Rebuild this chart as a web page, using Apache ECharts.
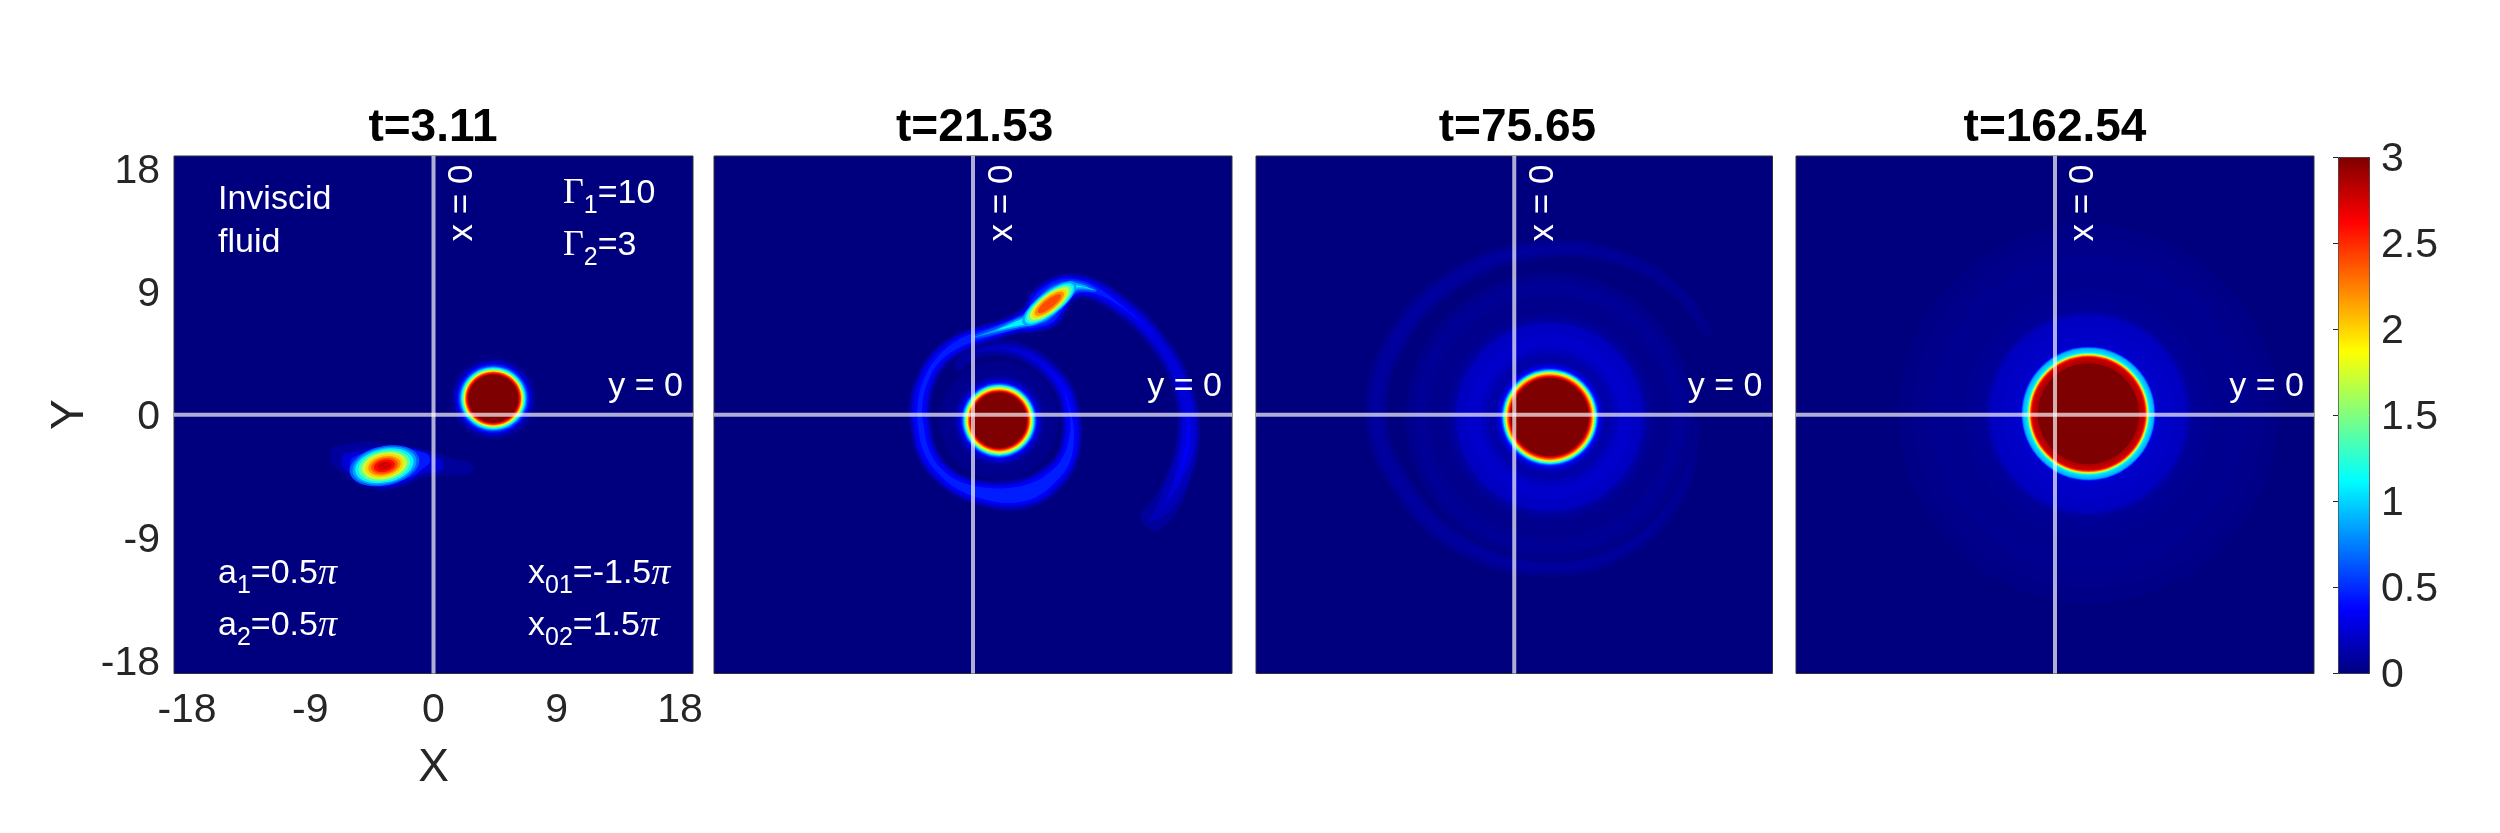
<!DOCTYPE html>
<html>
<head>
<meta charset="utf-8">
<style>
  html, body { margin: 0; background: #fff; }
  #chart { width: 2500px; height: 833px; }
</style>
<script src="https://cdn.jsdelivr.net/npm/echarts@6/dist/echarts.min.js"></script>
</head>
<body>
<div id="chart"></div>
<script>
// titles and tick labels
const panelTitles = ['t=3.11', 't=21.53', 't=75.65', 't=162.54'];
const tickValues = [-18, -9, 0, 9, 18];
const tickLabels = ['-18', '-9', '0', '9', '18'];

// jet colormap, 0..3
const jetColors = ['#00007f', '#0000ff', '#007fff', '#00ffff', '#7fff7f', '#ffff00', '#ff7f00', '#ff0000', '#7f0000'];

// the x = 0 and y = 0 guide lines
const lineX0 = [[0, -18], [0, 18]];
const lineY0 = [[-18, 0], [18, 0]];

// filled contours, painted outermost first
// vortex cores: [radius, value]
const t3Core = [[3.05, 0.03], [2.85, 0.1], [2.7, 0.2], [2.58, 0.3], [2.48, 0.45], [2.38, 0.6], [2.3, 0.85], [2.22, 1.1], [2.15, 1.35], [2.09, 1.6], [2.03, 1.85], [1.98, 2.1], [1.93, 2.35], [1.88, 2.55], [1.82, 2.75], [1.74, 3]];
const t21Core = [[4.1, 0.04], [3.35, 0.05], [3.15, 0.08], [3.0, 0.15], [2.85, 0.25], [2.72, 0.35], [2.62, 0.5], [2.55, 0.7], [2.48, 0.95], [2.42, 1.2], [2.36, 1.45], [2.3, 1.7], [2.24, 1.9], [2.18, 2.15], [2.12, 2.4], [2.06, 2.6], [2.0, 2.8], [1.93, 3]];
const t75Core = [[10.1, 0.02], [9.9, 0.035], [9.7, 0.05], [9.4, 0.065], [9.1, 0.07], [8.8, 0.055], [8.4, 0.04], [7.7, 0.04], [7.3, 0.06], [6.9, 0.1], [6.6, 0.16], [6.4, 0.2], [5.8, 0.22], [5.2, 0.22], [4.8, 0.18], [4.4, 0.13], [4.0, 0.13], [3.75, 0.2], [3.6, 0.3], [3.47, 0.4], [3.4, 0.5], [3.34, 0.7], [3.28, 0.9], [3.24, 1.1], [3.19, 1.3], [3.14, 1.55], [3.1, 1.75], [3.06, 1.95], [3.0, 2.15], [2.95, 2.35], [2.88, 2.55], [2.83, 2.7], [2.76, 2.85], [2.71, 3]];
const t162Core = [[13.2, 0.02], [12.2, 0.035], [11, 0.05], [10, 0.045], [8.6, 0.06], [7.8, 0.07], [7.2, 0.1], [7.0, 0.14], [6.9, 0.17], [6.7, 0.2], [6, 0.21], [5.2, 0.22], [4.8, 0.24], [4.72, 0.3], [4.66, 0.45], [4.62, 0.65], [4.58, 0.85], [4.5, 0.95], [4.38, 1.0], [4.28, 1.1], [4.22, 1.3], [4.18, 1.55], [4.14, 1.8], [4.1, 2.0], [4.06, 2.25], [4.02, 2.45], [3.97, 2.65], [3.9, 2.8], [3.7, 2.85], [3.52, 3]];

// tilted blobs: [x half axis, y half axis, value]
const t3Blob = [[2.45, 1.36, 0.65], [2.25, 1.26, 0.85], [2.05, 1.16, 1.1], [1.82, 1.04, 1.4], [1.58, 0.92, 1.7], [1.34, 0.78, 2.0], [1.14, 0.66, 2.2], [0.94, 0.54, 2.4], [0.74, 0.42, 2.6], [0.5, 0.27, 2.75]];
const t21Blob = [[2.3, 0.8, 0.85], [2.1, 0.72, 1.1], [1.9, 0.66, 1.4], [1.68, 0.58, 1.7], [1.45, 0.5, 2.0], [1.25, 0.42, 2.2], [1.0, 0.3, 2.4]];

// the faint skirt and tail around the t=3.11 blob: [x, y] outlines
const t3SkirtLow = [[-7.2, -2.7], [-5.81, -2.0], [-3.26, -2.0], [-0.95, -2.35], [1.3, -3.0], [2.7, -3.5], [2.6, -4.0], [1.14, -4.2], [-0.72, -4.4], [-2.57, -5.13], [-4.42, -5.13], [-6.04, -4.32]];
const t3SkirtMid = [[-6.39, -3.05], [-5.12, -2.51], [-2.8, -2.23], [-0.95, -2.47], [0.1, -2.93], [0.7, -3.4], [0.4, -3.9], [-0.72, -4.1], [-2.1, -4.78], [-3.96, -5.01], [-5.35, -4.43]];
const t3SkirtHigh = [[-5.81, -3.39], [-4.88, -2.7], [-2.8, -2.35], [-1.06, -2.54], [-0.25, -3.04], [-0.72, -3.74], [-2.1, -4.55], [-3.84, -4.9], [-5.12, -4.43]];

// spiral filaments: [x, y, half width at each level]
const t21ArmLevels = [0.08, 0.16, 0.26, 0.36, 0.46];
const t21Arm = [
  [12.14, -7.57, 0.45, 0, 0, 0, 0], [13.18, -6.53, 0.58, 0.3, 0, 0, 0], [14.11, -4.8, 0.56, 0.44, 0.14, 0, 0],
  [14.8, -2.71, 0.52, 0.42, 0.3, 0.08, 0], [14.99, -0.86, 0.5, 0.4, 0.28, 0.06, 0], [14.8, 1.0, 0.46, 0.36, 0.24, 0, 0],
  [14.11, 3.08, 0.44, 0.32, 0.2, 0, 0], [12.95, 4.93, 0.42, 0.32, 0.2, 0, 0], [11.56, 6.56, 0.44, 0.34, 0.24, 0.08, 0],
  [9.94, 7.83, 0.46, 0.37, 0.28, 0.16, 0.04], [8.55, 8.64, 0.48, 0.4, 0.32, 0.24, 0.14], [7.39, 8.92, 0.56, 0.48, 0.4, 0.34, 0.28],
  [6.46, 8.76, 0.7, 0.62, 0.55, 0.5, 0.45], [5.65, 8.18, 0.85, 0.78, 0.72, 0.66, 0.6], [4.84, 7.25, 0.92, 0.85, 0.78, 0.72, 0.66],
  [4.03, 6.67, 0.66, 0.6, 0.54, 0.48, 0.42], [2.99, 6.32, 0.46, 0.41, 0.35, 0.3, 0.25], [1.6, 5.86, 0.42, 0.36, 0.3, 0.25, 0.2],
  [0.09, 5.4, 0.44, 0.38, 0.32, 0.26, 0.18], [-1.18, 4.82, 0.44, 0.38, 0.32, 0.24, 0.15], [-2.46, 3.78, 0.44, 0.38, 0.31, 0.22, 0.1],
  [-3.27, 2.39, 0.46, 0.39, 0.32, 0.22, 0.1], [-3.68, 0.76, 0.48, 0.41, 0.34, 0.24, 0.1], [-3.61, -0.86, 0.48, 0.41, 0.34, 0.25, 0.12],
  [-3.15, -2.71, 0.48, 0.41, 0.34, 0.25, 0.12], [-2.11, -4.1, 0.46, 0.4, 0.33, 0.25, 0.12], [-0.72, -5.03, 0.5, 0.44, 0.37, 0.29, 0.18],
  [0.9, -5.49, 0.58, 0.52, 0.44, 0.36, 0.26], [2.52, -5.61, 0.68, 0.6, 0.5, 0.42, 0.32], [4.15, -5.26, 0.7, 0.62, 0.52, 0.44, 0.32],
  [5.54, -4.33, 0.62, 0.54, 0.45, 0.36, 0.24], [6.46, -3.17, 0.52, 0.46, 0.38, 0.29, 0.18], [6.86, -1.55, 0.46, 0.4, 0.32, 0.24, 0.1],
  [6.81, -0.16, 0.44, 0.37, 0.29, 0.2, 0.04], [6.35, 1.69, 0.42, 0.34, 0.24, 0.12, 0], [5.3, 3.08, 0.4, 0.3, 0.18, 0.04, 0],
  [3.91, 4.12, 0.38, 0.26, 0.12, 0, 0], [2.52, 4.59, 0.36, 0.2, 0.04, 0, 0], [1.14, 4.59, 0.32, 0.12, 0, 0, 0],
  [-0.02, 4.24, 0.28, 0.04, 0, 0, 0], [-1.18, 3.31, 0.18, 0, 0, 0, 0]
];
const t21BrightLevels = [0.6, 0.85, 1.1];
const t21Bright = [
  [0.09, 5.4, 0.08, 0, 0], [1.6, 5.86, 0.2, 0.08, 0], [2.99, 6.32, 0.3, 0.22, 0.12], [4.03, 6.67, 0.42, 0.34, 0.26],
  [4.84, 7.25, 0.66, 0.56, 0.46], [5.65, 8.18, 0.62, 0.52, 0.42], [6.46, 8.76, 0.44, 0.32, 0.2], [7.39, 8.92, 0.28, 0.16, 0.04], [8.55, 8.64, 0.08, 0, 0]
];
const t75RingLevels = [0.03, 0.05, 0.07, 0.09];
const t75Ring = [
  [12.63, -0.62, 0.35, 0.1, 0, 0], [11.39, -5.58, 0.55, 0.35, 0.1, 0], [7.67, -9.31, 0.65, 0.5, 0.3, 0.1], [2.46, -10.55, 0.75, 0.6, 0.42, 0.2],
  [-3.5, -9.06, 0.78, 0.62, 0.46, 0.25], [-7.72, -5.09, 0.8, 0.65, 0.5, 0.3], [-9.58, 0, 0.8, 0.65, 0.5, 0.3], [-7.97, 5.58, 0.8, 0.65, 0.5, 0.3],
  [-3.5, 9.8, 0.75, 0.6, 0.44, 0.25], [2.46, 11.54, 0.65, 0.5, 0.34, 0.15], [7.67, 10.79, 0.55, 0.4, 0.2, 0], [11.39, 8.56, 0.45, 0.25, 0, 0], [13.62, 5.58, 0.25, 0, 0, 0]
];

// turn the tables above into marks, one list per panel
function diskMarks(profile, x, y, squash) {
  return profile.map(d => ({ kind: 'ellipse', x: x, y: y, rx: d[0], ry: d[0] * squash, rot: 0, v: d[1] }));
}
function tiltedMarks(rows, x, y, rot) {
  return rows.map(d => ({ kind: 'ellipse', x: x, y: y, rx: d[0], ry: d[1], rot: rot, v: d[2] }));
}
function ribbonMarks(rows, levels, spread) {
  const out = [];
  levels.forEach((v, l) => {
    let run = [];
    rows.forEach((r, i) => {
      const w = r[2 + l];
      const prevW = i > 0 ? rows[i - 1][2 + l] : 0;
      const nextW = i < rows.length - 1 ? rows[i + 1][2 + l] : 0;
      if (w > 0 || prevW > 0 || nextW > 0) {
        run.push([r[0], r[1], w * spread]);
      } else if (run.length) {
        out.push({ kind: 'ribbon', pts: run, v: v });
        run = [];
      }
    });
    if (run.length) out.push({ kind: 'ribbon', pts: run, v: v });
  });
  return out;
}

const panelMarks = [
  [
    { kind: 'outline', pts: t3SkirtLow, v: 0.08 },
    { kind: 'outline', pts: t3SkirtMid, v: 0.25 },
    { kind: 'outline', pts: t3SkirtHigh, v: 0.45 }
  ].concat(tiltedMarks(t3Blob, -3.4, -3.55, 12), diskMarks(t3Core, 4.15, 1.13, 0.96)),
  diskMarks(t21Core, 1.81, -0.39, 1).concat(
    ribbonMarks(t21Arm, t21ArmLevels, 1.6),
    ribbonMarks(t21Bright, t21BrightLevels, 1.25),
    tiltedMarks(t21Blob, 5.31, 7.73, 38)
  ),
  ribbonMarks(t75Ring, t75RingLevels, 1).concat(diskMarks(t75Core, 2.48, -0.16, 1)),
  diskMarks(t162Core, 2.32, 0.07, 1)
];

function renderMark(panel) {
  return function (params, api) {
    const m = panelMarks[panel][api.value(1)];
    const fill = api.visual('color');
    if (m.kind === 'ellipse') {
      const c = api.coord([m.x, m.y]);
      const s = api.size([m.rx, m.ry]);
      return {
        type: 'ellipse',
        shape: { cx: c[0], cy: c[1], rx: s[0], ry: s[1] },
        rotation: m.rot * Math.PI / 180,
        originX: c[0],
        originY: c[1],
        style: { fill: fill }
      };
    }
    if (m.kind === 'outline') {
      return {
        type: 'polygon',
        shape: { points: m.pts.map(p => api.coord(p)), smooth: 0.6 },
        style: { fill: fill }
      };
    }
    // ribbon: offset the centre line both ways by the half width
    const px = m.pts.map(p => api.coord([p[0], p[1]]));
    const one = [], two = [];
    px.forEach((p, i) => {
      const a = px[Math.max(i - 1, 0)], b = px[Math.min(i + 1, px.length - 1)];
      const dx = b[0] - a[0], dy = b[1] - a[1], len = Math.hypot(dx, dy) || 1;
      const w = api.size([m.pts[i][2], 0])[0];
      one.push([p[0] - dy / len * w, p[1] + dx / len * w]);
      two.unshift([p[0] + dy / len * w, p[1] - dx / len * w]);
    });
    return {
      type: 'polygon',
      shape: { points: one.concat(two), smooth: 0.4 },
      style: { fill: fill }
    };
  };
}

// layout of the four panels and the colorbar
const panelLeft = [174, 714, 1256, 1796];
const panelWidth = [519, 518, 516.5, 518];
const panelTop = 156;
const panelHeight = 517.5;
const panelZero = [433.6, 973.6, 1514.4, 2054.6];
const titleCentre = [428, 969.6, 1512.4, 2050];
const white = '#fff';

const grids = panelLeft.map((l, i) => ({
  left: l, top: panelTop, width: panelWidth[i], height: panelHeight,
  show: true, backgroundColor: jetColors[0], borderColor: '#333', borderWidth: 1
}));
grids.push({ left: 2338, top: 157, width: 31, height: 516 });
// colorbar labels ride a little below their ticks
grids.push({ left: 2338, top: 160, width: 31, height: 516 });

const xAxes = panelLeft.map((l, i) => ({ type: 'value', gridIndex: i, min: -18, max: 18, show: false }));
const yAxes = panelLeft.map((l, i) => ({ type: 'value', gridIndex: i, min: -18, max: 18, show: false }));

// tick labels of panel one sit slightly inside the frame in the original
const labelStyle = { fontFamily: 'Liberation Sans', fontSize: 41, color: '#262626' };
xAxes.push({
  type: 'value', gridIndex: 0, min: -18.95, max: 18.95, position: 'bottom',
  name: 'X', nameLocation: 'middle', nameGap: 72,
  nameTextStyle: { fontFamily: 'Liberation Sans', fontSize: 46, color: '#262626' },
  axisLine: { show: false }, axisTick: { show: false }, splitLine: { show: false },
  axisLabel: Object.assign({ margin: 17, customValues: tickValues, hideOverlap: false, formatter: v => tickLabels[tickValues.indexOf(v)] }, labelStyle)
});
yAxes.push({
  type: 'value', gridIndex: 0, min: -18.73, max: 19.17, position: 'left',
  name: 'Y', nameLocation: 'middle', nameGap: 81,
  nameTextStyle: { fontFamily: 'Liberation Sans', fontSize: 46, color: '#262626' },
  axisLine: { show: false }, axisTick: { show: false }, splitLine: { show: false },
  axisLabel: Object.assign({ margin: 14, customValues: tickValues, hideOverlap: false, formatter: v => tickLabels[tickValues.indexOf(v)] }, labelStyle)
});
// colorbar axes: ticks on the first, labels on the second
xAxes.push({ type: 'value', gridIndex: 4, min: 0, max: 1, show: false });
yAxes.push({
  type: 'value', gridIndex: 4, min: 0, max: 3, interval: 0.5, position: 'right', z: 10,
  axisLine: { show: false }, splitLine: { show: false }, axisLabel: { show: false },
  axisTick: { show: true, inside: true, length: 5, lineStyle: { color: '#262626', width: 1 } }
});
xAxes.push({ type: 'value', gridIndex: 5, min: 0, max: 1, show: false });
yAxes.push({
  type: 'value', gridIndex: 5, min: 0, max: 3, interval: 0.5, position: 'right',
  axisLine: { show: false }, splitLine: { show: false }, axisTick: { show: false },
  axisLabel: Object.assign({ margin: 12 }, labelStyle)
});

const series = panelMarks.map((marks, i) => ({
  type: 'custom', xAxisIndex: i, yAxisIndex: i, z: 1, silent: true,
  renderItem: renderMark(i),
  data: marks.map((m, j) => [m.v, j])
}));
panelLeft.forEach((l, i) => {
  [lineX0, lineY0].forEach(d => {
    series.push({
      type: 'line', xAxisIndex: i, yAxisIndex: i, z: 3, silent: true, symbol: 'none', data: d,
      lineStyle: { color: 'rgba(255,255,255,0.68)', width: 4 }
    });
  });
});

// text inside the panels
const noteFont = { fontFamily: 'Liberation Sans', fontSize: 34, fill: white };
const richNote = {
  n: { fontFamily: 'Liberation Sans', fontSize: 34, fill: white, lineHeight: 40 },
  s: { fontFamily: 'Liberation Sans', fontSize: 25, fill: white, padding: [24, 0, 0, 0], lineHeight: 30 },
  g: { fontFamily: 'Liberation Serif', fontSize: 36, fill: white, lineHeight: 40 },
  p: { fontFamily: 'Liberation Serif', fontStyle: 'italic', fontSize: 38, fill: white, lineHeight: 40 }
};
function note(text, x, y) {
  return { type: 'text', z: 100, x: x, y: y, style: Object.assign({ text: text, align: 'left', verticalAlign: 'middle', rich: richNote }, noteFont) };
}
const graphics = [
  note('Inviscid', 218, 200),
  note('fluid', 218, 243),
  note('{g|Γ}{s|1}{n|=10}', 563, 194),
  note('{g|Γ}{s|2}{n|=3}', 563, 246),
  note('{n|a}{s|1}{n|=0.5}{p|π}', 218, 574),
  note('{n|a}{s|2}{n|=0.5}{p|π}', 218, 626),
  note('{n|x}{s|01}{n|=-1.5}{p|π}', 528, 574),
  note('{n|x}{s|02}{n|=1.5}{p|π}', 528, 626)
];
panelLeft.forEach((l, i) => {
  graphics.push({
    type: 'text', z: 100, x: l + panelWidth[i] - 10, y: 387,
    style: Object.assign({ text: 'y = 0', align: 'right', verticalAlign: 'middle' }, noteFont)
  });
  graphics.push({
    type: 'text', z: 100, x: panelZero[i] + 29, y: 203, rotation: Math.PI / 2,
    style: { text: 'x = 0', align: 'center', verticalAlign: 'middle', fontFamily: 'Liberation Sans', fontSize: 35, fill: white }
  });
});

const chart = echarts.init(document.getElementById('chart'), null, { renderer: 'canvas' });
chart.setOption({
  animation: false,
  backgroundColor: '#fff',
  title: panelTitles.map((t, i) => ({
    text: t, left: titleCentre[i], top: 100, textAlign: 'center',
    textStyle: { fontFamily: 'Liberation Sans', fontWeight: 'bold', fontSize: 46, color: '#000' }
  })),
  grid: grids,
  xAxis: xAxes,
  yAxis: yAxes,
  visualMap: {
    type: 'continuous', min: 0, max: 3, dimension: 0, seriesIndex: [0, 1, 2, 3],
    left: 2338, top: 157, itemWidth: 31, itemHeight: 516, padding: 0,
    calculable: false, hoverLink: false, borderWidth: 1, borderColor: '#262626',
    inRange: { color: jetColors }
  },
  graphic: graphics,
  series: series
});
</script>
</body>
</html>
